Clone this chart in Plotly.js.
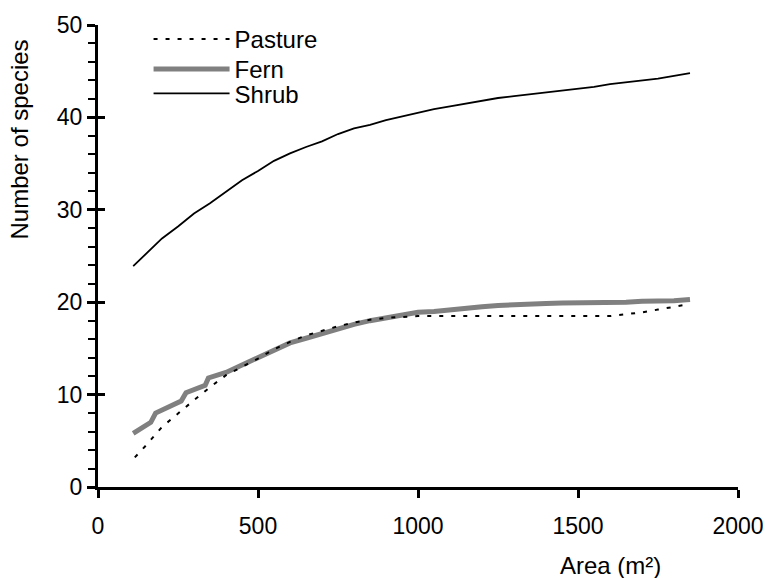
<!DOCTYPE html>
<html>
<head>
<meta charset="utf-8">
<script src="https://cdn.plot.ly/plotly-3.0.1.min.js"></script>
<style>html,body{margin:0;padding:0;background:#fff;}#chart{width:765px;height:578px;}</style>
</head>
<body>
<div id="chart"></div>
<script>
// Data
const seriesNames = ["Pasture", "Fern", "Shrub"];

const pastureX = [115,150,200,250,300,350,400,450,500,550,600,650,700,750,800,850,900,950,1000,1050,1100,1150,1200,1250,1300,1350,1400,1450,1500,1550,1600,1650,1700,1750,1800,1850];
const pastureY = [3.2,4.5,6.5,8.0,9.4,10.8,12.1,13.0,13.9,14.9,15.7,16.4,16.9,17.4,17.8,18.1,18.3,18.4,18.5,18.5,18.5,18.5,18.5,18.5,18.5,18.5,18.5,18.5,18.5,18.5,18.5,18.7,18.9,19.2,19.5,19.8];

const fernX = [110,135,165,180,225,260,275,320,335,345,400,450,500,550,600,650,700,750,800,850,900,950,1000,1050,1100,1150,1200,1250,1300,1350,1400,1450,1500,1550,1600,1650,1700,1750,1800,1850];
const fernY = [5.8,6.4,7.0,8.0,8.8,9.3,10.2,10.8,11.0,11.8,12.4,13.2,14.0,14.9,15.6,16.1,16.6,17.2,17.6,18.0,18.3,18.6,18.9,19.0,19.2,19.35,19.5,19.65,19.75,19.8,19.85,19.9,19.9,19.9,19.95,20.0,20.1,20.1,20.15,20.3];

const shrubX = [110,150,200,250,300,350,400,450,500,550,600,650,700,750,800,850,900,950,1000,1050,1100,1150,1200,1250,1300,1350,1400,1450,1500,1550,1600,1650,1700,1750,1800,1850];
const shrubY = [23.9,25.2,26.9,28.2,29.6,30.7,32.0,33.2,34.2,35.3,36.1,36.8,37.4,38.2,38.8,39.2,39.7,40.1,40.5,40.9,41.2,41.5,41.8,42.1,42.3,42.5,42.7,42.9,43.1,43.3,43.6,43.8,44.0,44.2,44.5,44.8];

const xRange = [0, 2000], xStep = 500;
const yRange = [0, 50], yStep = 10, yMinorStep = 2;
const xTitle = "Area (m²)";
const yTitle = "Number of species";

const FONT = "Liberation Sans, Arial, sans-serif";
const CLEAR = "rgba(0,0,0,0)";

const traces = [
  {x: pastureX, y: pastureY, name: seriesNames[0], type: "scatter", mode: "lines",
   line: {color: "#000000", width: 2, dash: "4px,8px"}, legend: "legend", xaxis: "x2", yaxis: "y"},
  {x: fernX, y: fernY, name: seriesNames[1], type: "scatter", mode: "lines",
   line: {color: "#808080", width: 5}, legend: "legend2", xaxis: "x", yaxis: "y3"},
  {x: shrubX, y: shrubY, name: seriesNames[2], type: "scatter", mode: "lines",
   line: {color: "#000000", width: 1.8}, legend: "legend3", xaxis: "x", yaxis: "y2"}
];

const legendBase = {
  xanchor: "left", yanchor: "middle", bgcolor: CLEAR, borderwidth: 0,
  font: {family: FONT, size: 24, color: "#000"}, itemwidth: 76, tracegroupgap: 0
};

const layout = {
  width: 765, height: 578,
  margin: {l: 98, r: 27, t: 25, b: 91},
  paper_bgcolor: "#fff", plot_bgcolor: CLEAR,
  font: {family: FONT, size: 23, color: "#000"},
  showlegend: true,
  legend: Object.assign({}, legendBase, {x: 0.079, y: 0.969}),
  legend2: Object.assign({}, legendBase, {x: 0.079, y: 0.904}),
  legend3: Object.assign({}, legendBase, {x: 0.079, y: 0.851}),
  // main x axis: line + ticks
  xaxis: {
    range: xRange, tickmode: "linear", tick0: 0, dtick: xStep, showticklabels: false,
    showline: true, linecolor: "#000", linewidth: 3,
    ticks: "outside", ticklen: 8, tickwidth: 3, tickcolor: "#000",
    showgrid: false, zeroline: false
  },
  // x tick labels
  xaxis2: {
    range: xRange, overlaying: "x", side: "bottom", anchor: "y",
    tickmode: "linear", tick0: 0, dtick: xStep, showticklabels: true,
    showline: false, ticks: "outside", ticklen: 18, tickwidth: 1, tickcolor: CLEAR,
    showgrid: false, zeroline: false
  },
  // main y axis: line + ticks + minor ticks
  yaxis: {
    range: yRange, tickmode: "linear", tick0: 0, dtick: yStep, showticklabels: false,
    showline: true, linecolor: "#000", linewidth: 3,
    ticks: "outside", ticklen: 8, tickwidth: 3, tickcolor: "#000",
    minor: {dtick: yMinorStep, ticks: "outside", ticklen: 7, tickwidth: 2, tickcolor: "#000", showgrid: false},
    showgrid: false, zeroline: false
  },
  // y tick labels
  yaxis2: {
    range: yRange, overlaying: "y", side: "left", anchor: "x",
    tickmode: "linear", tick0: 0, dtick: yStep, showticklabels: true,
    showline: false, ticks: "outside", ticklen: 10, tickwidth: 1, tickcolor: CLEAR,
    showgrid: false, zeroline: false
  },
  // inner half of the crossing major y ticks
  yaxis3: {
    range: yRange, overlaying: "y", side: "left", anchor: "x",
    tickmode: "linear", tick0: 0, dtick: yStep, showticklabels: false,
    showline: false, ticks: "inside", ticklen: 7, tickwidth: 3, tickcolor: "#000",
    showgrid: false, zeroline: false
  },
  annotations: [
    {text: xTitle, xref: "paper", yref: "paper", x: 0.8, y: -0.17, xanchor: "center", yanchor: "middle",
     showarrow: false, font: {family: FONT, size: 24, color: "#000"}},
    {text: yTitle, xref: "paper", yref: "paper", x: -0.122, y: 0.752, xanchor: "center", yanchor: "middle",
     textangle: -90, showarrow: false, font: {family: FONT, size: 24, color: "#000"}}
  ]
};

Plotly.newPlot("chart", traces, layout, {displayModeBar: false, staticPlot: true});
</script>
</body>
</html>
